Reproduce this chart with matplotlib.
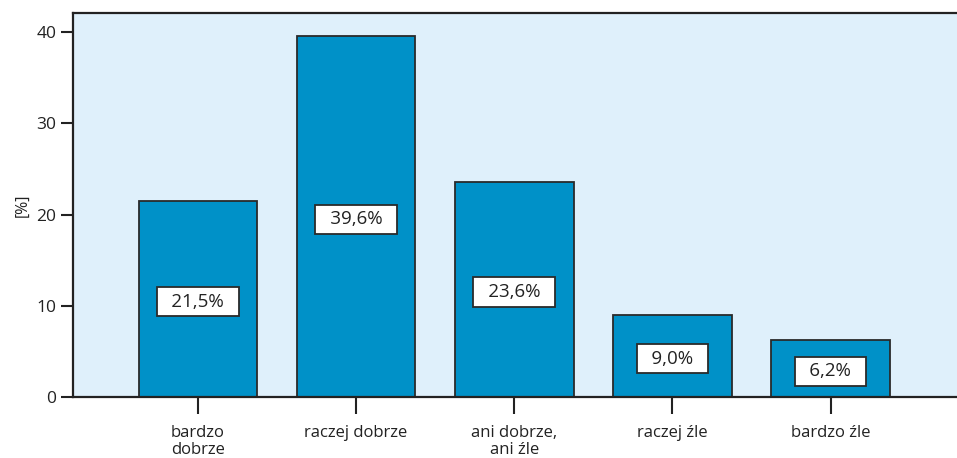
import matplotlib
matplotlib.use("Agg")
import matplotlib.pyplot as plt

categories = ["bardzo\ndobrze", "raczej dobrze", "ani dobrze,\nani źle", "raczej źle", "bardzo źle"]
values = [21.5, 39.6, 23.6, 9.0, 6.2]
value_labels = ["21,5%", "39,6%", "23,6%", "9,0%", "6,2%"]
yticks = [0, 10, 20, 30, 40]

plt.rcParams["font.family"] = ["Open Sans", "DejaVu Sans"]

fig = plt.figure(figsize=(9.57, 4.58), dpi=100)
ax = fig.add_axes([73 / 957, 1 - 397 / 458, 1 - 73 / 957 + 0.01, (397 - 13) / 458])
ax.set_facecolor("#dff0fb")

x = list(range(len(values)))
ax.bar(x, values, width=0.75, color="#0091c8", edgecolor="#2a2a2a", linewidth=1.3, zorder=2)

for xi, v, lab in zip(x, values, value_labels):
    ax.text(xi, v / 2 - 0.3, "\u2002" + lab + "\u2002", ha="center", va="center", fontsize=13.5,
            color="#222222", zorder=3,
            bbox=dict(boxstyle="square,pad=0.3", facecolor="white", edgecolor="#2a2a2a", linewidth=1.3))

ax.set_xlim(-0.79, 4.86)
ax.set_ylim(0, 42.1)
ax.set_yticks(yticks)
ax.set_xticks(x)
ax.set_xticklabels(categories, fontsize=12, color="#222222", linespacing=1.1)
ax.tick_params(axis="y", labelsize=12.5, colors="#222222", length=9, width=1.5, pad=3)
ax.tick_params(axis="x", length=12, width=1.5, pad=8, colors="#222222")
ax.set_ylabel("[%]", fontsize=11.5, color="#222222", labelpad=4)

for side in ["left", "top", "bottom"]:
    ax.spines[side].set_linewidth(1.6)
    ax.spines[side].set_color("#222222")
ax.spines["right"].set_visible(False)

fig.savefig("out.png", dpi=100)
